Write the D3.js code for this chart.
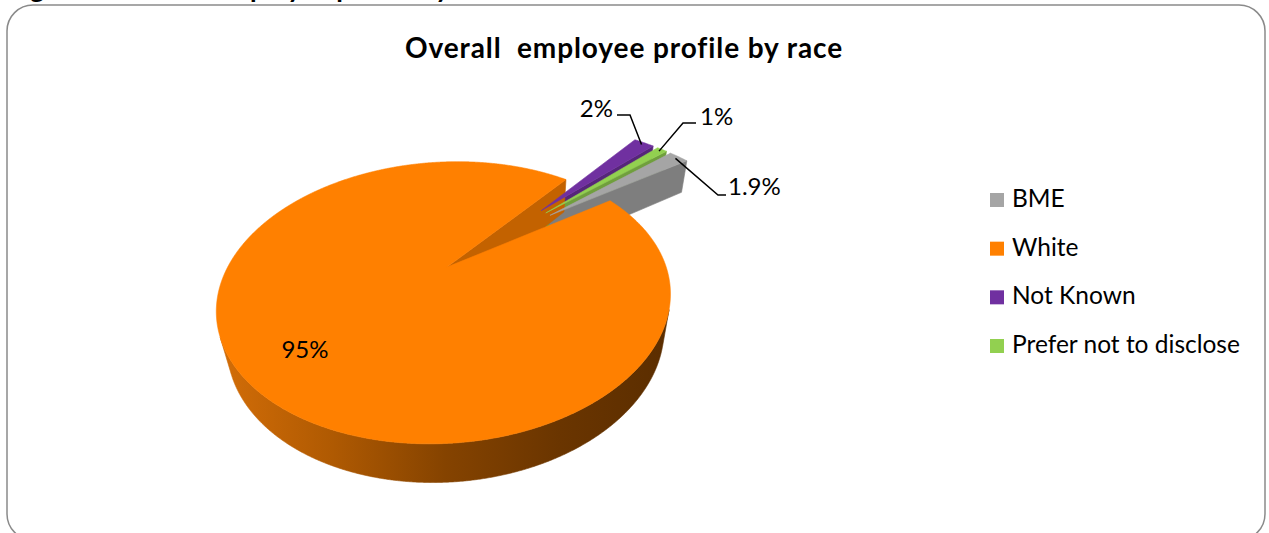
<!DOCTYPE html>
<html>
<head>
<meta charset="utf-8">
<script src="https://cdn.jsdelivr.net/npm/d3@7"></script>
<style>
  html, body { margin: 0; padding: 0; background: #ffffff; }
  svg { display: block; }
  text { font-family: Lato, "Open Sans", "DejaVu Sans", sans-serif; fill: #000; }
</style>
</head>
<body>
<script>
// ---- data ----
const categories = ["BME", "White", "Not Known", "Prefer not to disclose"];
const values = [1.9, 95, 2, 1];
const valueLabels = ["1.9%", "95%", "2%", "1%"];
const sliceColors = ["#a5a5a5", "#ff8000", "#7030a0", "#92d050"];
const chartTitle = "Overall  employee profile by race";
const captionText = "Figure 3: Overall employee profile by race";

// ---- canvas ----
const W = 1269, H = 533;
const svg = d3.select("body").append("svg").attr("width", W).attr("height", H);

// caption of the figure above the frame (mostly outside the view)
svg.append("text")
  .attr("x", 8).attr("y", -2)
  .style("font-weight", "bold").style("font-size", "27px")
  .text(captionText);

// rounded chart frame
svg.append("rect")
  .attr("x", 7).attr("y", 5).attr("width", 1258).attr("height", 535)
  .attr("rx", 26).attr("ry", 26)
  .attr("fill", "none").attr("stroke", "#8a8a8a").attr("stroke-width", 1.5);

svg.append("text")
  .attr("x", 624).attr("y", 58).attr("text-anchor", "middle")
  .style("font-weight", "bold").style("font-size", "28px")
  .style("letter-spacing", "0.9px")
  .style("white-space", "pre")
  .attr("xml:space", "preserve")
  .text(chartTitle);

// ---- 3D pie ----
const firstSliceAngle = 48 * Math.PI / 180;
const pie = d3.pie().sort(null).value(d => d)
  .startAngle(firstSliceAngle).endAngle(firstSliceAngle + 2 * Math.PI);
const arcs = pie(values);

const tilt = 34.7 * Math.PI / 180, sT = Math.sin(tilt), cT = Math.cos(tilt);
const camDist = 3.44, focal = 713, cx0 = 499, cy0 = 238.5;
const thick = 0.21, explode = 0.33;
const cam = [0, -camDist * cT, camDist * sT];

// perspective projection of a point on the pie (x right, y away, h up)
function project(x, y, h) {
  const yc = y * sT + h * cT;
  const zc = camDist + y * cT - h * sT;
  return [cx0 + focal * x / zc, cy0 - focal * yc / zc, zc];
}

const slices = arcs.map((a, i) => {
  const mid = (a.startAngle + a.endAngle) / 2;
  return { i, a, mid, ox: explode * Math.sin(mid), oy: explode * Math.cos(mid) };
});
const pt = (s, r, t, h) => project(s.ox + r * Math.sin(t), s.oy + r * Math.cos(t), h);
const facing = (n, p) => n[0] * (cam[0] - p[0]) + n[1] * (cam[1] - p[1]) + n[2] * (cam[2] - p[2]) > 0;

const walls = [], tops = [];
const step = 0.25 * Math.PI / 180;

slices.forEach(s => {
  const a0 = s.a.startAngle, a1 = s.a.endAngle;
  const n = Math.max(2, Math.ceil((a1 - a0) / step));
  const angles = d3.range(n + 1).map(k => a0 + (a1 - a0) * k / n);

  // outer curved wall: keep only the runs facing the camera
  let run = [];
  const flush = () => {
    if (run.length > 1) {
      const top = run.map(t => pt(s, 1, t, 0));
      const bot = run.map(t => pt(s, 1, t, -thick)).reverse();
      const poly = top.concat(bot);
      walls.push({ s, kind: "outer", pts: poly, z: d3.mean(poly, p => p[2]) });
    }
    run = [];
  };
  angles.forEach(t => {
    const p = [s.ox + Math.sin(t), s.oy + Math.cos(t), -thick / 2];
    if (facing([Math.sin(t), Math.cos(t), 0], p)) run.push(t); else flush();
  });
  flush();

  // radial walls at the start and end of the slice
  [[a0, [-Math.cos(a0), Math.sin(a0), 0]], [a1, [Math.cos(a1), -Math.sin(a1), 0]]].forEach(([t, nrm]) => {
    const p = [s.ox + 0.5 * Math.sin(t), s.oy + 0.5 * Math.cos(t), -thick / 2];
    if (facing(nrm, p)) {
      const poly = [pt(s, 0, t, 0), pt(s, 1, t, 0), pt(s, 1, t, -thick), pt(s, 0, t, -thick)];
      walls.push({ s, kind: "radial", pts: poly, z: d3.mean(poly, p => p[2]) });
    }
  });

  // top face
  const face = [pt(s, 0, a0, 0)].concat(angles.map(t => pt(s, 1, t, 0)));
  tops.push({ s, pts: face, z: d3.mean(face, p => p[2]) });
});

// side shading for the large slice
const defs = svg.append("defs");
const grad = defs.append("linearGradient").attr("id", "sideShade")
  .attr("gradientUnits", "userSpaceOnUse")
  .attr("x1", 215).attr("y1", 0).attr("x2", 675).attr("y2", 0);
[[0, "#d46e08"], [0.25, "#b05a02"], [0.5, "#854300"], [0.75, "#6a3500"], [1, "#5a2d00"]]
  .forEach(([o, c]) => grad.append("stop").attr("offset", o).attr("stop-color", c));

const line = d3.line().x(p => p[0]).y(p => p[1]).curve(d3.curveLinearClosed);
const wallFill = w => {
  if (w.kind === "outer" && w.s.i === 1) return "url(#sideShade)";
  return d3.color(sliceColors[w.s.i]).darker(0.75).formatHex();
};

const pieG = svg.append("g");
pieG.selectAll("path.wall")
  .data(walls.sort((a, b) => b.z - a.z))
  .join("path").attr("class", "wall")
  .attr("d", d => line(d.pts))
  .attr("fill", wallFill)
  .attr("stroke", wallFill).attr("stroke-width", 0.6).attr("stroke-linejoin", "round");

pieG.selectAll("path.top")
  .data(tops.sort((a, b) => b.z - a.z))
  .join("path").attr("class", "top")
  .attr("d", d => line(d.pts))
  .attr("fill", d => sliceColors[d.s.i])
  .attr("stroke", d => sliceColors[d.s.i]).attr("stroke-width", 0.6).attr("stroke-linejoin", "round");

// ---- data labels ----
// text position, text anchor and leader elbow for each slice label
const labelLayout = [
  { x: 728, y: 195, anchor: "start", elbow: [[726, 195], [718, 195]] },
  { x: 305, y: 358, anchor: "middle", elbow: null },
  { x: 613, y: 117, anchor: "end", elbow: [[617, 115], [630, 115]] },
  { x: 700, y: 125, anchor: "start", elbow: [[696, 123], [683, 123]] }
];

const labelG = svg.append("g");
slices.forEach(s => {
  const L = labelLayout[s.i];
  if (L.elbow) {
    const tip = pt(s, 0.97, s.mid, 0);
    labelG.append("path")
      .attr("d", d3.line()([L.elbow[0], L.elbow[1], [tip[0], tip[1]]]))
      .attr("fill", "none").attr("stroke", "#000").attr("stroke-width", 1.5);
  }
  labelG.append("text")
    .attr("x", L.x).attr("y", L.y).attr("text-anchor", L.anchor)
    .style("font-size", "24px")
    .text(valueLabels[s.i]);
});

// ---- legend ----
const legendY = d3.scalePoint().domain(categories).range([207, 353]);
const legend = svg.append("g").selectAll("g").data(categories).join("g")
  .attr("transform", d => `translate(990,${legendY(d)})`);
legend.append("rect").attr("x", 0).attr("y", -14).attr("width", 14).attr("height", 14)
  .attr("fill", (d, i) => sliceColors[i]);
legend.append("text").attr("x", 22).attr("y", 0)
  .style("font-size", "24.5px").text(d => d);
</script>
</body>
</html>
